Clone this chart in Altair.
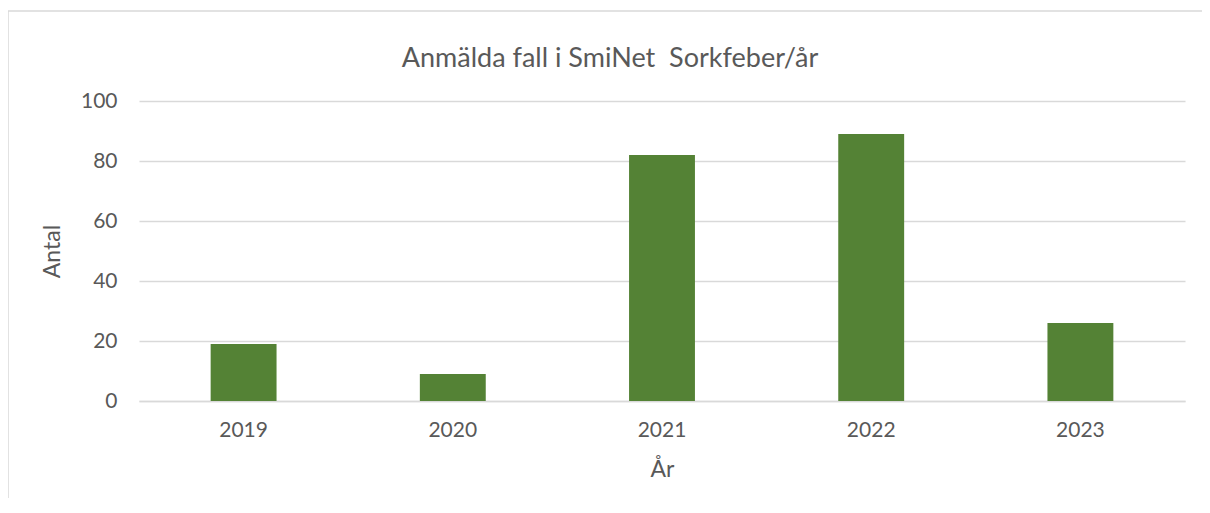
import altair as alt
import pandas as pd

years = ["2019", "2020", "2021", "2022", "2023"]
cases = [19, 9, 82, 89, 26]
title_text = "Anmälda fall i SmiNet\u00a0 Sorkfeber/år"
y_title = "Antal"
x_title = "År"

df = pd.DataFrame({"year": years, "cases": cases})
one = pd.DataFrame({"t": [title_text]})

FONT = "Lato"
TXT = "#595959"
GRID = "#d9d9d9"

bars = alt.Chart(df).mark_bar(color="#548235").encode(
    x=alt.X("year:N", sort=years,
            scale=alt.Scale(paddingInner=0.685, paddingOuter=0.3425),
            axis=alt.Axis(title=x_title, labelAngle=0, ticks=False,
                          domainColor=GRID, domainWidth=1.3,
                          labelPadding=18, titlePadding=18,
                          labelFontSize=21, titleFontSize=23,
                          labelColor=TXT, titleColor=TXT,
                          labelFont=FONT, titleFont=FONT, titleFontWeight="normal")),
    y=alt.Y("cases:Q", scale=alt.Scale(domain=[0, 100], nice=False),
            axis=alt.Axis(title=y_title, values=[0, 20, 40, 60, 80, 100],
                          ticks=False, domain=False, gridColor=GRID, gridWidth=1.3,
                          labelPadding=22, titlePadding=16,
                          labelFontSize=21, titleFontSize=23,
                          labelColor=TXT, titleColor=TXT,
                          labelFont=FONT, titleFont=FONT, titleFontWeight="normal")),
)

title = alt.Chart(one).mark_text(font=FONT, fontSize=27, color=TXT,
                                 align="center", baseline="alphabetic").encode(
    text="t:N", x=alt.value(471), y=alt.value(-34)
)

top_line = alt.Chart(one).mark_rule(color=GRID, strokeWidth=1.5).encode(
    x=alt.value(-131), x2=alt.value(1063), y=alt.value(-90)
)
left_line = alt.Chart(one).mark_rule(color=GRID, strokeWidth=1.5).encode(
    x=alt.value(-131), y=alt.value(-90), y2=alt.value(397)
)

chart = alt.layer(top_line, left_line, bars, title).properties(
    width=1046, height=300,
    autosize=alt.AutoSizeParams(type="none"),
    padding={"left": 131, "top": 93, "right": 17, "bottom": 97},
).configure_view(stroke=None)

chart.save("out.html", embed_options={"renderer": "svg", "actions": False})
